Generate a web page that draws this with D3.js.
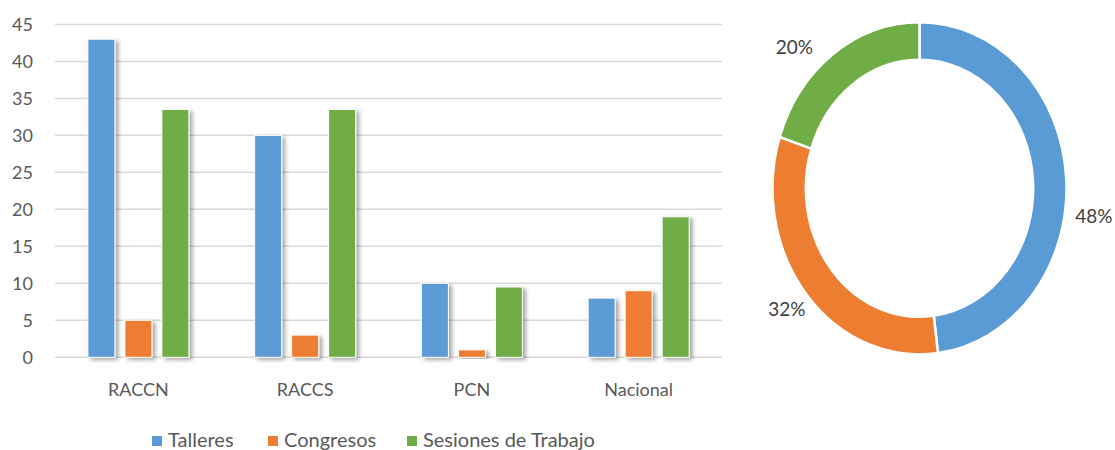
<!doctype html>
<html lang="es">
<head>
<meta charset="utf-8">
<script src="https://d3js.org/d3.v7.min.js"></script>
<style>
  body { margin: 0; background: #fff; }
  svg { display: block; font-family: Lato, "Noto Sans", sans-serif; }
  .tick text { fill: #595959; }
</style>
</head>
<body>
<svg width="1115" height="450"></svg>
<script>
// data
var categories = ["RACCN", "RACCS", "PCN", "Nacional"];
var seriesNames = ["Talleres", "Congresos", "Sesiones de Trabajo"];
var talleres = [43, 30, 10, 8];
var congresos = [5, 3, 1, 9];
var sesiones = [33.5, 33.5, 9.5, 19];
var shares = [48, 32, 20];
var yTicks = [0, 5, 10, 15, 20, 25, 30, 35, 40, 45];
var colors = ["#5b9bd5", "#ed7d31", "#70ad47"];

var svg = d3.select("svg");

// drop shadow like the office chart
var defs = svg.append("defs");
var f = defs.append("filter").attr("id", "shadow").attr("x", "-30%").attr("y", "-10%").attr("width", "170%").attr("height", "130%");
f.append("feDropShadow").attr("dx", 3).attr("dy", 2).attr("stdDeviation", 2).attr("flood-color", "#000").attr("flood-opacity", 0.35);

// ---- bar chart ----
var x0 = d3.scaleBand().domain(categories).range([55, 722]);
var x1 = d3.scaleBand().domain(seriesNames).range([27.9, 138.9]).paddingInner(0.27).paddingOuter(0.135);
var y = d3.scaleLinear().domain([0, 45]).range([357.3, 24.4]);

var grid = svg.append("g");
grid.selectAll("line").data(yTicks).enter().append("line")
  .attr("x1", 55).attr("x2", 722)
  .attr("y1", function(d) { return y(d); }).attr("y2", function(d) { return y(d); })
  .attr("stroke", "#d9d9d9").attr("stroke-width", 1.5);

var yAxis = svg.append("g").attr("transform", "translate(39,0)")
  .call(d3.axisLeft(y).tickValues(yTicks).tickSize(0).tickPadding(6));
yAxis.select(".domain").remove();
yAxis.selectAll("text").attr("font-size", 18).attr("font-family", "Lato, sans-serif").attr("dy", "0.36em");

var xAxis = svg.append("g").attr("transform", "translate(0,357.3)")
  .call(d3.axisBottom(x0).tickSize(0));
xAxis.select(".domain").remove();
xAxis.selectAll("text").attr("font-size", 18).attr("font-family", "Lato, sans-serif")
  .attr("y", 38.7).attr("dy", null);

var rows = categories.map(function(c, i) {
  return { cat: c, vals: [talleres[i], congresos[i], sesiones[i]] };
});

var groups = svg.append("g").selectAll("g").data(rows).enter().append("g")
  .attr("transform", function(d) { return "translate(" + x0(d.cat) + ",0)"; });

groups.selectAll("rect")
  .data(function(d) { return d.vals.map(function(v, j) { return { s: seriesNames[j], v: v, j: j }; }); })
  .enter().append("rect")
  .attr("x", function(d) { return x1(d.s); })
  .attr("width", x1.bandwidth())
  .attr("y", function(d) { return y(d.v); })
  .attr("height", function(d) { return y(0) - y(d.v); })
  .attr("fill", function(d) { return colors[d.j]; })
  .attr("stroke", "#fff").attr("stroke-width", 1)
  .attr("filter", "url(#shadow)");

// legend
var legendX = [152, 268, 407];
var legend = svg.append("g").selectAll("g").data(seriesNames).enter().append("g")
  .attr("transform", function(d, i) { return "translate(" + legendX[i] + ",436)"; });
legend.append("rect").attr("width", 10).attr("height", 10).attr("y", 0)
  .attr("fill", function(d, i) { return colors[i]; });
legend.append("text").attr("x", 16).attr("y", 11.3).attr("font-size", 20)
  .attr("fill", "#595959").text(function(d) { return d; });

// ---- donut ----
var cx = 919.5, cy = 188.3, sy = 1.13;
var pie = d3.pie().sort(null).value(function(d) { return d; });
var arc = d3.arc().innerRadius(113.7).outerRadius(147);
var arcs = pie(shares);

var donut = svg.append("g").attr("transform", "translate(" + cx + "," + cy + ") scale(1," + sy + ")");
donut.selectAll("path").data(arcs).enter().append("path")
  .attr("d", arc)
  .attr("fill", function(d, i) { return colors[i]; })
  .attr("stroke", "#fff").attr("stroke-width", 2.5)
  .attr("vector-effect", "non-scaling-stroke");

// label placement nudges (layout, not data)
var labelArc = d3.arc().innerRadius(172).outerRadius(172);
var nudge = [[-16, 40], [0, -3], [-24, 16]];
svg.append("g").selectAll("text").data(arcs).enter().append("text")
  .attr("x", function(d, i) { return cx + labelArc.centroid(d)[0] + nudge[i][0]; })
  .attr("y", function(d, i) { return cy + labelArc.centroid(d)[1] * sy + nudge[i][1]; })
  .attr("text-anchor", function(d, i) { return i === 0 ? "start" : "middle"; })
  .attr("dy", "0.36em")
  .attr("font-size", 19).attr("fill", "#404040")
  .text(function(d) { return d.data + "%"; });
</script>
</body>
</html>
